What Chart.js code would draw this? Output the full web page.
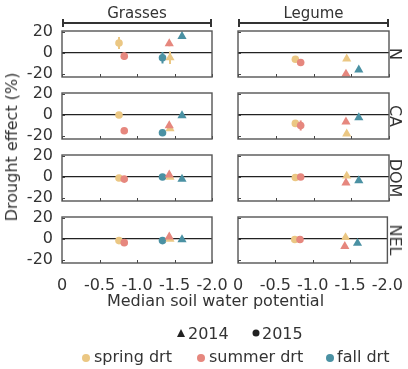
<!DOCTYPE html>
<html>
<head>
<meta charset="utf-8">
<script src="https://cdn.jsdelivr.net/npm/chart.js@4.4.1/dist/chart.umd.min.js"></script>
<style>
  html, body { margin: 0; padding: 0; background: #fff; }
  #fig { position: relative; width: 408px; height: 369px; overflow: hidden;
         font-family: "DejaVu Sans", sans-serif; color: #333; }
  #fig canvas { position: absolute; left: 0; top: 0; }
  .lbl { position: absolute; white-space: nowrap; line-height: 1; font-size: 16px;
         transform: translate(-50%, -50%); }
  .left { transform: translate(0, -50%); }
  .down { transform: translate(-50%, -50%) rotate(90deg); }
  .up { transform: translate(-50%, -50%) rotate(-90deg); }
  .ink { position: absolute; background: #333; }
  .dot { position: absolute; width: 8px; height: 8px; border-radius: 50%; transform: translate(-50%, -50%); }
  .tri { position: absolute; width: 0; height: 0; transform: translate(-50%, -50%);
         border-left: 4.5px solid transparent; border-right: 4.5px solid transparent; border-bottom: 8px solid #222; }
</style>
</head>
<body>
<div id="fig"></div>
<script>
// Facets: community rows and plant-group columns
const sites = ['N', 'CA', 'DOM', 'NEL'];
const groups = ['Grasses', 'Legume'];
const treatments = ['spring drt', 'summer drt', 'fall drt'];
const years = ['2014', '2015'];
const treatmentColors = ['#EBC783', '#E6877E', '#4A91A3'];

// Median soil water potential of each drought treatment (spring, summer, fall)
const potential2014 = [-1.44, -1.43, -1.60];
const potential2015 = [-0.76, -0.83, -1.34];

// Drought effect (%) per site N, CA, DOM, NEL, with standard errors
const grassSpring14 = [-4.5, -13, 0, 0];
const grassSpring14Se = [6, 2, 2, 1.5];
const grassSummer14 = [9, -10, 2, 2];
const grassSummer14Se = [2.5, 2, 2, 1.5];
const grassFall14 = [16, -0.5, -2, -0.5];
const grassFall14Se = [2, 1.5, 1.5, 1.5];
const grassSpring15 = [9.5, 0, -1, -1.5];
const grassSpring15Se = [5.7, 1.5, 1.5, 1.5];
const grassSummer15 = [-3, -15, -2, -3.5];
const grassSummer15Se = [3.5, 2, 1.5, 1.5];
const grassFall15 = [-4.5, -17, 0, -1.5];
const grassFall15Se = [5.5, 2, 1.5, 1.5];

const legSpring14 = [-5.5, -18, 1, 1.5];
const legSpring14Se = [2, 2, 1.5, 1.5];
const legSummer14 = [-20, -6.5, -5.5, -7];
const legSummer14Se = [2, 2, 1.5, 1.5];
const legFall14 = [-16, -2.5, -3.5, -4];
const legFall14Se = [2, 1.5, 1.5, 1.5];
const legSpring15 = [-6, -8, -0.5, -0.5];
const legSpring15Se = [2, 2, 1.5, 1.5];
const legSummer15 = [-9, -10, 0, -0.5];
const legSummer15Se = [2, 4.8, 1.5, 1.5];
const legFall15 = [null, null, null, null];
const legFall15Se = [null, null, null, null];

// Axis ticks
const xTicks = [0, -0.5, -1, -1.5, -2];
const xTickLabels = ['0', '-0.5', '-1.0', '-1.5', '-2.0'];
const yTicks = [-20, 0, 20];
const yTickLabels = ['-20', '0', '20'];

// Series list, first entry drawn on top
const seriesList = [
  { t: 2, y: 0, x: potential2014, vals: [grassFall14, legFall14], se: [grassFall14Se, legFall14Se] },
  { t: 1, y: 0, x: potential2014, vals: [grassSummer14, legSummer14], se: [grassSummer14Se, legSummer14Se] },
  { t: 0, y: 0, x: potential2014, vals: [grassSpring14, legSpring14], se: [grassSpring14Se, legSpring14Se] },
  { t: 2, y: 1, x: potential2015, vals: [grassFall15, legFall15], se: [grassFall15Se, legFall15Se] },
  { t: 1, y: 1, x: potential2015, vals: [grassSummer15, legSummer15], se: [grassSummer15Se, legSummer15Se] },
  { t: 0, y: 1, x: potential2015, vals: [grassSpring15, legSpring15], se: [grassSpring15Se, legSpring15Se] }
];

// Page geometry
const W = 408, H = 369;
const colBox = [{ l: 62, r: 212 }, { l: 238, r: 389 }];
const rowTop = [31, 93, 155, 217];
const rowH = 46;
const yAxisW = 40;   // room for the value labels left of a panel
const xAxisH = 28;   // room for the value labels under a panel

const fig = document.getElementById('fig');

function addLabel(text, x, y, cls, size) {
  const d = document.createElement('div');
  d.className = 'lbl' + (cls ? ' ' + cls : '');
  d.textContent = text;
  d.style.left = x + 'px';
  d.style.top = y + 'px';
  if (size) d.style.fontSize = size + 'px';
  fig.appendChild(d);
  return d;
}
function addInk(x, y, w, h) {
  const d = document.createElement('div');
  d.className = 'ink';
  Object.assign(d.style, { left: x + 'px', top: y + 'px', width: w + 'px', height: h + 'px' });
  fig.appendChild(d);
}

// Frame, inward tick marks and error bars for each panel
const panelDecor = {
  id: 'panelDecor',
  beforeDatasetsDraw(chart) {
    const { ctx, chartArea: a, scales: { x, y } } = chart;
    ctx.save();
    ctx.strokeStyle = '#444';
    ctx.lineWidth = 1;
    xTicks.forEach(v => {
      const px = Math.round(x.getPixelForValue(v)) + 0.5;
      ctx.beginPath(); ctx.moveTo(px, a.bottom); ctx.lineTo(px, a.bottom - 3); ctx.stroke();
    });
    yTicks.forEach(v => {
      const py = Math.round(y.getPixelForValue(v)) + 0.5;
      ctx.beginPath(); ctx.moveTo(a.left, py); ctx.lineTo(a.left + 3, py); ctx.stroke();
    });
    ctx.lineWidth = 2;
    chart.data.datasets.forEach(ds => {
      ctx.strokeStyle = ds.backgroundColor;
      ds.data.forEach(p => {
        if (p.se == null) return;
        const px = x.getPixelForValue(p.x);
        ctx.beginPath();
        ctx.moveTo(px, y.getPixelForValue(p.y - p.se));
        ctx.lineTo(px, y.getPixelForValue(p.y + p.se));
        ctx.stroke();
      });
    });
    ctx.restore();
  },
  afterDraw(chart) {
    const { ctx, chartArea: a } = chart;
    ctx.save();
    ctx.strokeStyle = '#555';
    ctx.lineWidth = 1.4;
    ctx.strokeRect(a.left, a.top, a.right - a.left, a.bottom - a.top);
    ctx.restore();
  }
};

const tickFont = { family: 'DejaVu Sans', size: 16 };

sites.forEach((site, r) => {
  groups.forEach((group, c) => {
    const box = colBox[c];
    const top = rowTop[r];
    const bottom = top + rowH;
    const datasets = seriesList.map(s => {
      const vals = s.vals[c][r];
      return {
        label: treatments[s.t] + ' ' + years[s.y],
        data: vals == null ? [] : [{ x: s.x[s.t], y: vals, se: s.se[c][r] }],
        backgroundColor: treatmentColors[s.t],
        borderWidth: 0,
        pointStyle: s.y === 0 ? 'triangle' : 'circle',
        pointRadius: s.y === 0 ? 5.3 : 3.8
      };
    });
    const cv = document.createElement('canvas');
    cv.width = W; cv.height = H;
    cv.style.width = W + 'px'; cv.style.height = H + 'px';
    fig.appendChild(cv);
    new Chart(cv, {
      type: 'scatter',
      data: { datasets },
      options: {
        responsive: false,
        animation: false,
        devicePixelRatio: 1,
        events: [],
        layout: { padding: { left: box.l - yAxisW, right: W - box.r, top: top, bottom: H - bottom - xAxisH } },
        plugins: { legend: { display: false }, tooltip: { enabled: false } },
        scales: {
          x: {
            type: 'linear', min: -2, max: 0, reverse: true,
            afterBuildTicks: s => { s.ticks = xTicks.map(v => ({ value: v })); },
            afterFit: s => { s.height = xAxisH; },
            grid: { display: false },
            border: { display: false },
            ticks: {
              display: r === sites.length - 1,
              font: tickFont, color: '#333', padding: 5, maxRotation: 0, autoSkip: false,
              callback: (v, i) => xTickLabels[i]
            }
          },
          y: {
            type: 'linear', min: -22.9, max: 21,
            afterBuildTicks: s => { s.ticks = yTicks.map(v => ({ value: v })); },
            afterFit: s => { s.width = yAxisW; },
            grid: {
              drawTicks: false,
              lineWidth: 1.3,
              color: ctx => (ctx.tick && ctx.tick.value === 0) ? '#222' : 'rgba(0,0,0,0)'
            },
            border: { display: false },
            ticks: {
              display: c === 0,
              font: tickFont, color: '#333', padding: 9, autoSkip: false,
              callback: (v, i) => yTickLabels[i]
            }
          }
        }
      },
      plugins: [panelDecor]
    });
  });
  // strip label on the right
  addLabel(site, 395, rowTop[r] + rowH / 2, 'down', 16);
});

// Column headers with brackets
groups.forEach((group, c) => {
  const box = colBox[c];
  addLabel(group, (box.l + box.r) / 2, 12.5, '', 15);
  addInk(box.l, 22, box.r - box.l, 1.6);
  addInk(box.l, 19, 1.6, 8);
  addInk(box.r - 1.6, 19, 1.6, 8);
});

// Axis titles
addLabel('Drought effect (%)', 12, 147, 'up', 16);
addLabel('Median soil water potential', 215.5, 301, '', 16);

// Legend: year shapes
const tri = document.createElement('div');
tri.className = 'tri';
tri.style.left = '181px'; tri.style.top = '333px';
fig.appendChild(tri);
addLabel(years[0], 188, 333.5, 'left', 16);
const yd = document.createElement('div');
yd.className = 'dot';
Object.assign(yd.style, { left: '255.5px', top: '333px', background: '#222', width: '7px', height: '7px' });
fig.appendChild(yd);
addLabel(years[1], 262, 333.5, 'left', 16);

// Legend: treatment colours
const dotX = [85.5, 201, 329.5];
const textX = [94, 209, 337];
treatments.forEach((t, i) => {
  const d = document.createElement('div');
  d.className = 'dot';
  Object.assign(d.style, { left: dotX[i] + 'px', top: '357.5px', background: treatmentColors[i] });
  fig.appendChild(d);
  addLabel(t, textX[i], 356.5, 'left', 16);
});
</script>
</body>
</html>
